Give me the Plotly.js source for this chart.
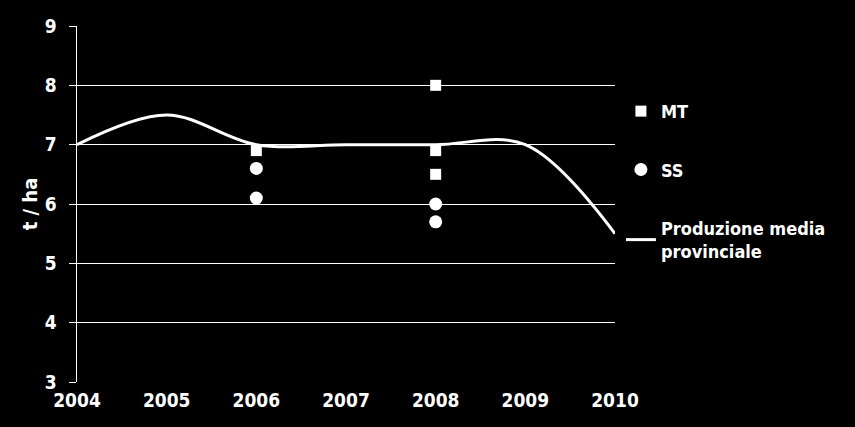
<!DOCTYPE html>
<html><head><meta charset="utf-8">
<script src="https://cdn.plot.ly/plotly-3.0.1.min.js"></script>
<style>html,body{margin:0;padding:0;background:#000;}#c{width:855px;height:427px;}</style>
</head><body><div id="c"></div>
<script>
const lineYears = [2004, 2005, 2006, 2007, 2008, 2009, 2010];
const lineValues = [7.0, 7.5, 7.0, 7.0, 7.0, 7.0, 5.5];
const mtYears = [2006, 2008, 2008, 2008];
const mtValues = [6.9, 8.0, 6.9, 6.5];
const ssYears = [2006, 2006, 2008, 2008];
const ssValues = [6.6, 6.1, 6.0, 5.7];
const names = ['MT', 'SS', 'Produzione media<br>provinciale'];
const yTitle = 't / ha';

const F = '"DejaVu Sans Condensed", "DejaVu Sans", Verdana, sans-serif';
const data = [
  {x: mtYears, y: mtValues, mode: 'markers', type: 'scatter', name: names[0], legendgroup: 'a',
   marker: {symbol: 'square', size: 11, color: '#fff'}},
  {x: ssYears, y: ssValues, mode: 'markers', type: 'scatter', name: names[1], legendgroup: 'b',
   marker: {symbol: 'circle', size: 13, color: '#fff'}},
  {x: lineYears, y: lineValues, mode: 'lines', type: 'scatter', name: names[2], legendgroup: 'c',
   line: {shape: 'spline', smoothing: 1, width: 3, color: '#fff'}}
];
const layout = {
  width: 855, height: 427,
  paper_bgcolor: '#000', plot_bgcolor: '#000',
  margin: {l: 77, r: 240, t: 26, b: 45},
  font: {family: F, color: '#fff', size: 19},
  xaxis: {range: [2004, 2010], dtick: 1, tick0: 2004, showgrid: false, zeroline: false,
    showline: false, ticks: '', tickfont: {size: 19, family: F, weight: 'bold'}, ticklabelstandoff: 5},
  yaxis: {range: [3, 9], dtick: 1, tick0: 3, showgrid: true, gridcolor: '#fff', gridwidth: 1,
    zeroline: false, showline: true, linecolor: '#fff', linewidth: 1.5, ticks: 'outside', ticklen: 7,
    tickcolor: '#fff', tickfont: {size: 19, family: F, weight: 'bold'}, ticklabelstandoff: 8,
    title: {text: yTitle, font: {size: 20, family: F, weight: 'bold'}, standoff: 2}},
  legend: {x: 1.011, y: 0.812, xanchor: 'left', yanchor: 'top', tracegroupgap: 32,
    bgcolor: 'rgba(0,0,0,0)', font: {size: 18, family: F, color: '#fff', weight: 'bold'}, itemwidth: 30},
  showlegend: true
};
Plotly.newPlot('c', data, layout, {displayModeBar: false, staticPlot: true});
</script>
</body></html>
